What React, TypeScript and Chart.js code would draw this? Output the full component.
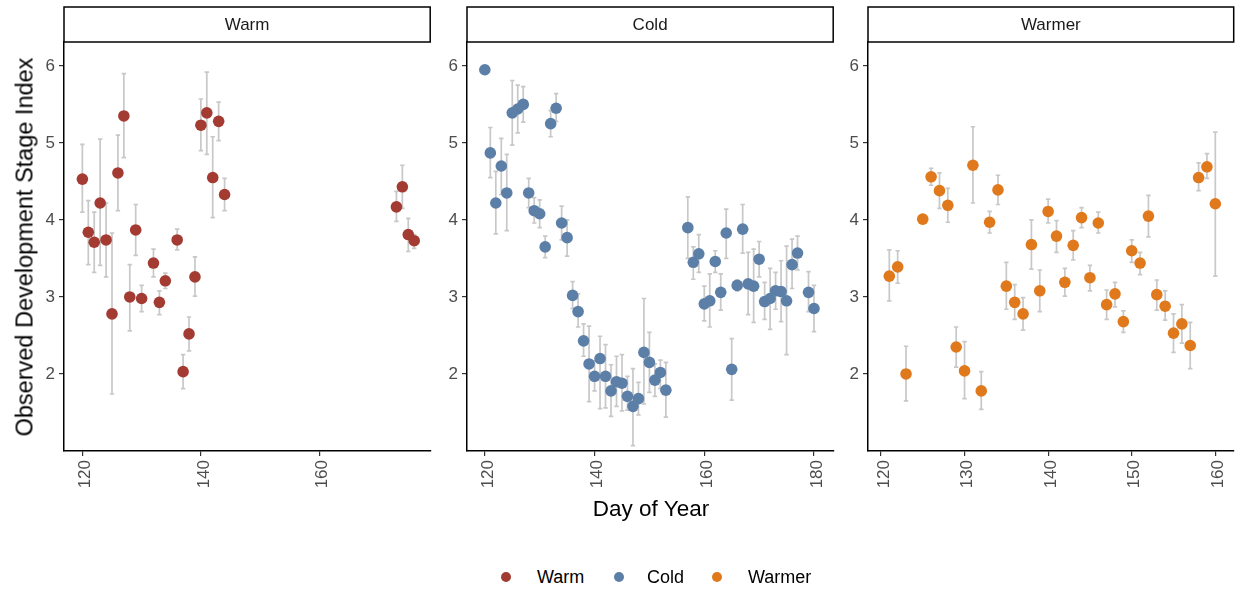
import React, { useEffect, useRef } from "react";
import { Chart, registerables } from "chart.js";
Chart.register(...registerables);

// ---------------- data ----------------
const warmDays = [120, 121, 122, 123, 124, 125, 126, 127, 128, 129, 130, 132, 133, 134, 136, 137, 138, 139, 140, 141, 142, 143, 144, 173, 174, 175, 176];
const warmVals = [4.53, 3.84, 3.71, 4.22, 3.74, 2.78, 4.61, 5.35, 3.0, 3.87, 2.98, 3.44, 2.93, 3.21, 3.74, 2.03, 2.52, 3.26, 5.23, 5.39, 4.55, 5.28, 4.33, 4.17, 4.43, 3.81, 3.73];
const warmLo = [4.1, 3.42, 3.32, 3.41, 3.26, 1.74, 4.12, 4.81, 2.56, 3.54, 2.81, 3.26, 2.77, 3.11, 3.61, 1.81, 2.3, 3.01, 4.9, 4.85, 4.03, 5.03, 4.12, 3.98, 4.15, 3.59, 3.63];
const warmHi = [4.98, 4.25, 4.1, 5.05, 4.22, 3.83, 5.1, 5.9, 3.42, 4.2, 3.15, 3.62, 3.08, 3.31, 3.88, 2.25, 2.74, 3.52, 5.57, 5.92, 5.08, 5.53, 4.54, 4.37, 4.71, 4.02, 3.81];

const coldDays = [120, 121, 122, 123, 124, 125, 126, 127, 128, 129, 130, 131, 132, 133, 134, 135, 136, 137, 138, 139, 140, 141, 142, 143, 144, 145, 146, 147, 148, 149, 150, 151, 152, 153, 157, 158, 159, 160, 161, 162, 163, 164, 165, 166, 167, 168, 169, 170, 171, 172, 173, 174, 175, 176, 177, 179, 180];
const coldVals = [5.95, 4.87, 4.22, 4.7, 4.35, 5.39, 5.44, 5.5, 4.35, 4.12, 4.08, 3.65, 5.25, 5.45, 3.96, 3.77, 3.02, 2.81, 2.43, 2.13, 1.97, 2.2, 1.97, 1.78, 1.9, 1.88, 1.71, 1.58, 1.68, 2.28, 2.15, 1.92, 2.02, 1.79, 3.9, 3.45, 3.56, 2.91, 2.95, 3.46, 3.06, 3.83, 2.06, 3.15, 3.88, 3.17, 3.14, 3.49, 2.94, 2.98, 3.08, 3.07, 2.95, 3.42, 3.57, 3.06, 2.85];
const coldLo = [5.91, 4.55, 3.82, 4.33, 3.86, 4.97, 5.13, 5.27, 4.16, 3.96, 3.9, 3.51, 5.08, 5.28, 3.74, 3.53, 2.85, 2.61, 2.23, 1.64, 1.78, 1.55, 1.56, 1.45, 1.58, 1.52, 1.53, 1.07, 1.47, 1.61, 1.76, 1.71, 1.81, 1.44, 3.5, 3.23, 3.32, 2.69, 2.61, 3.32, 2.83, 3.5, 1.66, 3.08, 3.57, 2.77, 2.67, 3.26, 2.71, 2.58, 2.84, 2.68, 2.25, 3.11, 3.35, 2.81, 2.55];
const coldHi = [6.0, 5.2, 4.63, 5.06, 4.85, 5.81, 5.75, 5.73, 4.54, 4.29, 4.26, 3.79, 5.42, 5.64, 4.18, 4.0, 3.2, 3.04, 2.65, 2.62, 2.17, 2.49, 2.38, 2.12, 2.23, 2.25, 1.97, 2.07, 1.89, 2.98, 2.54, 2.13, 2.18, 2.15, 4.3, 3.65, 3.81, 3.14, 3.3, 3.6, 3.3, 4.14, 2.46, 3.22, 4.2, 3.58, 3.62, 3.72, 3.19, 3.37, 3.32, 3.47, 3.66, 3.75, 3.79, 3.33, 3.15];

const warmerDays = [121, 122, 123, 125, 126, 127, 128, 129, 130, 131, 132, 133, 134, 135, 136, 137, 138, 139, 140, 141, 142, 143, 144, 145, 146, 147, 148, 149, 150, 151, 152, 153, 154, 155, 156, 157, 158, 159, 160];
const warmerVals = [3.27, 3.39, 2.0, 4.01, 4.56, 4.38, 4.19, 2.35, 2.04, 4.71, 1.78, 3.97, 4.39, 3.14, 2.93, 2.78, 3.68, 3.08, 4.11, 3.79, 3.19, 3.67, 4.03, 3.25, 3.96, 2.9, 3.04, 2.68, 3.6, 3.44, 4.05, 3.03, 2.88, 2.53, 2.65, 2.37, 4.55, 4.69, 4.21];
const warmerLo = [2.95, 3.18, 1.65, 3.96, 4.45, 4.15, 3.97, 2.09, 1.68, 4.22, 1.54, 3.83, 4.2, 2.84, 2.71, 2.57, 3.36, 2.81, 3.96, 3.58, 3.01, 3.48, 3.9, 3.08, 3.83, 2.71, 2.87, 2.54, 3.45, 3.29, 3.78, 2.83, 2.7, 2.28, 2.4, 2.07, 4.38, 4.54, 3.27];
const warmerHi = [3.61, 3.6, 2.36, 4.06, 4.67, 4.61, 4.41, 2.61, 2.42, 5.21, 2.03, 4.11, 4.58, 3.45, 3.16, 2.99, 4.0, 3.35, 4.27, 3.99, 3.37, 3.86, 4.16, 3.41, 4.1, 3.09, 3.19, 2.82, 3.74, 3.58, 4.32, 3.22, 3.08, 2.78, 2.9, 2.67, 4.74, 4.86, 5.14];

const panelLabels = ["Warm", "Cold", "Warmer"];
const seriesColors = ["#A33B33", "#5C7FA8", "#E0791C"];
const yTickValues = [2, 3, 4, 5, 6];
const warmXTicks = [120, 140, 160];
const coldXTicks = [120, 140, 160, 180];
const warmerXTicks = [120, 130, 140, 150, 160];

// ---------------- layout ----------------
const FONT = "'Liberation Sans', Arial, Helvetica, sans-serif";
const PLOT_TOP = 42;
const PLOT_BOTTOM = 451;
const CANVAS_H = 500;
const Y_AXIS_W = 44;
const RIGHT_PAD = 4;
const PANEL_W = 368;
const Y_MIN = 1.0;
const Y_MAX = 6.31;

type PanelDef = {
  label: string;
  color: string;
  days: number[];
  vals: number[];
  lo: number[];
  hi: number[];
  xMin: number;
  xMax: number;
  xTicks: number[];
  left: number;
};

const panels: PanelDef[] = [
  { label: panelLabels[0], color: seriesColors[0], days: warmDays, vals: warmVals, lo: warmLo, hi: warmHi, xMin: 116.9, xMax: 178.7, xTicks: warmXTicks, left: 64 },
  { label: panelLabels[1], color: seriesColors[1], days: coldDays, vals: coldVals, lo: coldLo, hi: coldHi, xMin: 116.75, xMax: 183.5, xTicks: coldXTicks, left: 467 },
  { label: panelLabels[2], color: seriesColors[2], days: warmerDays, vals: warmerVals, lo: warmerLo, hi: warmerHi, xMin: 118.45, xMax: 162.2, xTicks: warmerXTicks, left: 868 },
];

function PanelChart({ p }: { p: PanelDef }) {
  const ref = useRef<HTMLCanvasElement>(null);
  const w = Y_AXIS_W + PANEL_W + RIGHT_PAD;
  useEffect(() => {
    if (!ref.current) return;
    const errPlugin = {
      id: "errbars",
      beforeDatasetsDraw(chart: any) {
        const ctx = chart.ctx;
        const xs = chart.scales.x;
        const ys = chart.scales.y;
        ctx.save();
        ctx.strokeStyle = "rgba(170,170,170,0.65)";
        ctx.lineWidth = 1.7;
        const cap = 2.2;
        p.days.forEach((d, i) => {
          const x = xs.getPixelForValue(d);
          const y1 = ys.getPixelForValue(p.lo[i]);
          const y2 = ys.getPixelForValue(p.hi[i]);
          ctx.beginPath();
          ctx.moveTo(x, y1);
          ctx.lineTo(x, y2);
          ctx.moveTo(x - cap, y1);
          ctx.lineTo(x + cap, y1);
          ctx.moveTo(x - cap, y2);
          ctx.lineTo(x + cap, y2);
          ctx.stroke();
        });
        ctx.restore();
      },
    };
    const stripPlugin = {
      id: "strip",
      afterDraw(chart: any) {
        const ctx = chart.ctx;
        const a = chart.chartArea;
        ctx.save();
        const x = a.left;
        const sw = a.right - a.left;
        const y = 7;
        const h = 35;
        ctx.fillStyle = "#ffffff";
        ctx.fillRect(x, y, sw, h);
        ctx.strokeStyle = "#000";
        ctx.lineWidth = 1.5;
        ctx.strokeRect(x, y, sw, h);
        ctx.fillStyle = "#1a1a1a";
        ctx.font = `17px ${FONT}`;
        ctx.textAlign = "center";
        ctx.textBaseline = "middle";
        ctx.fillText(p.label, x + sw / 2, y + h / 2 + 1);
        ctx.restore();
      },
    };
    const chart = new Chart(ref.current, {
      type: "scatter",
      data: {
        datasets: [
          {
            data: p.days.map((d, i) => ({ x: d, y: p.vals[i] })),
            backgroundColor: p.color,
            borderWidth: 0,
            pointRadius: 5.8,
            pointHoverRadius: 5.8,
          },
        ],
      },
      options: {
        responsive: false,
        animation: false,
        events: [],
        layout: { padding: { top: PLOT_TOP, right: RIGHT_PAD, left: 0, bottom: 0 } },
        plugins: { legend: { display: false }, tooltip: { enabled: false } },
        scales: {
          x: {
            type: "linear",
            min: p.xMin,
            max: p.xMax,
            afterBuildTicks: (s: any) => {
              s.ticks = p.xTicks.map((v) => ({ value: v }));
            },
            afterFit: (s: any) => {
              s.height = CANVAS_H - PLOT_BOTTOM;
            },
            ticks: {
              minRotation: 90,
              maxRotation: 90,
              autoSkip: false,
              labelOffset: 3,
              font: { family: FONT, size: 17 },
              color: "#4d4d4d",
              padding: 4,
            },
            grid: { display: true, drawOnChartArea: false, drawTicks: true, tickLength: 5, color: "#333", lineWidth: 1.2 },
            border: { display: true, color: "#000", width: 1.5 },
          },
          y: {
            type: "linear",
            min: Y_MIN,
            max: Y_MAX,
            afterBuildTicks: (s: any) => {
              s.ticks = yTickValues.map((v) => ({ value: v }));
            },
            afterFit: (s: any) => {
              s.width = Y_AXIS_W;
            },
            ticks: { font: { family: FONT, size: 17 }, color: "#4d4d4d", padding: 4 },
            grid: { display: true, drawOnChartArea: false, drawTicks: true, tickLength: 5, color: "#333", lineWidth: 1.2 },
            border: { display: true, color: "#000", width: 1.5 },
          },
        },
      },
      plugins: [errPlugin, stripPlugin],
    } as any);
    return () => chart.destroy();
  }, []);
  return (
    <canvas
      ref={ref}
      width={w}
      height={CANVAS_H}
      style={{ position: "absolute", left: p.left - Y_AXIS_W, top: 0, width: w, height: CANVAS_H }}
    />
  );
}

export default function App() {
  const legendItems = [
    { label: panelLabels[0], color: seriesColors[0], dot: 506, text: 537 },
    { label: panelLabels[1], color: seriesColors[1], dot: 619, text: 647 },
    { label: panelLabels[2], color: seriesColors[2], dot: 717, text: 748 },
  ];
  return (
    <div style={{ position: "fixed", left: 0, top: 0, width: 1239, height: 590, background: "#fff", overflow: "hidden", fontFamily: FONT }}>
      {panels.map((p) => (
        <PanelChart key={p.label} p={p} />
      ))}
      <div
        style={{
          position: "absolute",
          left: 25,
          top: 247,
          transform: "translate(-50%, -50%) rotate(-90deg)",
          whiteSpace: "nowrap",
          fontSize: 23.5,
          color: "#000",
        }}
      >
        Observed Development Stage Index
      </div>
      <div
        style={{
          position: "absolute",
          left: 651,
          top: 509,
          transform: "translate(-50%, -50%)",
          whiteSpace: "nowrap",
          fontSize: 22.5,
          color: "#000",
        }}
      >
        Day of Year
      </div>
      {legendItems.map((it) => (
        <React.Fragment key={it.label}>
          <div
            style={{
              position: "absolute",
              left: it.dot - 5,
              top: 577 - 5,
              width: 10,
              height: 10,
              borderRadius: "50%",
              background: it.color,
            }}
          />
          <div
            style={{
              position: "absolute",
              left: it.text,
              top: 577,
              transform: "translateY(-50%)",
              whiteSpace: "nowrap",
              fontSize: 18,
              color: "#000",
            }}
          >
            {it.label}
          </div>
        </React.Fragment>
      ))}
    </div>
  );
}
